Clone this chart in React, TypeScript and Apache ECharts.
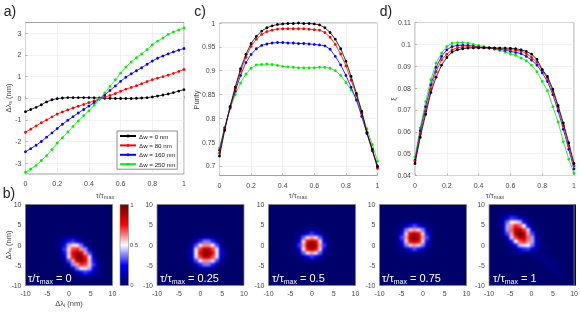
import React, { useEffect, useRef } from "react";
import * as echarts from "echarts";

const tauAxis = [0,0.033,0.067,0.1,0.133,0.167,0.2,0.233,0.267,0.3,0.333,0.367,0.4,0.433,0.467,0.5,0.533,0.567,0.6,0.633,0.667,0.7,0.733,0.767,0.8,0.833,0.867,0.9,0.933,0.967,1];
const seriesNames = ["Δw = 0 nm","Δw = 80 nm","Δw = 160 nm","Δw = 250 nm"];
const seriesColors = ["#000000","#ff0000","#0000ff","#00ee00"];

const shift0 = [-0.62,-0.52,-0.42,-0.3,-0.17,-0.07,-0.02,0.01,0.03,0.03,0.03,0.03,0.03,0.02,0.01,0,0,-0.01,-0.01,-0.01,-0.01,0,0.01,0.03,0.06,0.1,0.15,0.2,0.26,0.33,0.4];
const shift80 = [-1.57,-1.43,-1.28,-1.13,-1.0,-0.86,-0.73,-0.63,-0.54,-0.45,-0.37,-0.29,-0.2,-0.12,-0.03,0.05,0.13,0.22,0.32,0.42,0.5,0.58,0.67,0.77,0.86,0.93,1.0,1.07,1.15,1.24,1.33];
const shift160 = [-2.47,-2.33,-2.17,-2.0,-1.8,-1.6,-1.4,-1.2,-1.02,-0.85,-0.68,-0.52,-0.36,-0.2,-0.03,0.15,0.36,0.57,0.78,0.97,1.13,1.27,1.41,1.57,1.72,1.85,1.95,2.05,2.14,2.22,2.3];
const shift250 = [-3.42,-3.27,-3.1,-2.88,-2.65,-2.37,-2.07,-1.82,-1.56,-1.3,-1.05,-0.8,-0.58,-0.32,-0.04,0.25,0.55,0.86,1.16,1.44,1.68,1.87,2.05,2.25,2.47,2.64,2.78,2.95,3.06,3.16,3.25];

const purity0 = [0.721,0.775,0.825,0.866,0.904,0.934,0.957,0.972,0.983,0.99,0.994,0.997,0.998,0.999,0.999,1,0.999,0.999,0.998,0.996,0.99,0.98,0.966,0.946,0.92,0.888,0.852,0.815,0.77,0.735,0.698];
const purity80 = [0.727,0.778,0.823,0.862,0.899,0.928,0.951,0.966,0.976,0.982,0.985,0.987,0.988,0.988,0.988,0.988,0.988,0.987,0.986,0.985,0.98,0.97,0.955,0.935,0.91,0.88,0.848,0.812,0.77,0.733,0.695];
const purity160 = [0.733,0.78,0.822,0.857,0.89,0.917,0.934,0.946,0.953,0.956,0.958,0.959,0.959,0.958,0.958,0.957,0.957,0.956,0.955,0.954,0.952,0.945,0.93,0.912,0.89,0.865,0.838,0.804,0.768,0.732,0.7];
const purity250 = [0.738,0.781,0.82,0.85,0.874,0.893,0.905,0.912,0.913,0.914,0.913,0.911,0.909,0.908,0.907,0.906,0.906,0.906,0.906,0.907,0.907,0.905,0.9,0.89,0.875,0.86,0.84,0.81,0.778,0.745,0.71];

const xi0 = [0.0455,0.0575,0.068,0.078,0.085,0.0905,0.094,0.0965,0.0975,0.098,0.0983,0.0984,0.0984,0.0984,0.0984,0.0984,0.0983,0.0983,0.0982,0.098,0.0975,0.0968,0.0955,0.0932,0.0885,0.0853,0.0795,0.072,0.064,0.055,0.0455];
const xi80 = [0.0465,0.059,0.0695,0.0795,0.0875,0.093,0.0955,0.0975,0.0985,0.0988,0.0988,0.0987,0.0986,0.0985,0.0984,0.0982,0.098,0.0978,0.0976,0.0973,0.097,0.0958,0.094,0.0918,0.0882,0.0845,0.0785,0.0712,0.0628,0.0535,0.0445];
const xi160 = [0.047,0.0605,0.0715,0.0815,0.0895,0.0945,0.0975,0.099,0.0995,0.0996,0.0995,0.0992,0.0988,0.0985,0.0983,0.098,0.0977,0.0973,0.0968,0.0963,0.0958,0.0945,0.0928,0.0905,0.087,0.083,0.077,0.0695,0.0612,0.052,0.043];
const xi250 = [0.0485,0.0618,0.0738,0.0838,0.0915,0.096,0.099,0.1005,0.1008,0.1008,0.1005,0.1,0.0995,0.099,0.0985,0.0978,0.0972,0.0965,0.0957,0.095,0.0938,0.0925,0.0905,0.0875,0.083,0.0788,0.0715,0.0645,0.0555,0.0475,0.041];

const detuning = [-10,-9,-8,-7,-6,-5,-4,-3,-2,-1,0,1,2,3,4,5,6,7,8,9,10];

// Each row: [signal detuning, first idler detuning, ...joint spectral intensity]
const heatTau0 = [
  [2,-3,.02,.04,.05,.09,.09,.06,.03,.01],
  [1,-3,.03,.05,.12,.26,.30,.24,.10,.04,.01],
  [0,-3,.02,.07,.25,.43,.53,.49,.36,.13,.035,.01],
  [-1,-3,.02,.07,.30,.54,.69,.72,.6,.39,.12,.025,0],
  [-2,-3,.01,.05,.26,.56,.79,.92,.83,.6,.32,.07,.01,0],
  [-3,-3,0,.03,.15,.47,.74,.97,.97,.74,.47,.15,.03,0],
  [-4,-3,0,.01,.07,.32,.6,.83,.92,.79,.56,.26,.05,.01],
  [-5,-3,0,0,.025,.12,.39,.6,.72,.69,.54,.30,.07,.02],
  [-6,-3,0,0,0,.035,.13,.36,.49,.53,.43,.25,.07,.02],
  [-7,-3,0,0,0,.01,.04,.10,.24,.30,.26,.12,.05,.03],
  [-8,-3,0,0,0,0,.01,.03,.06,.09,.09,.05,.04,.02],
];
const heatTau25 = [
  [3,-4,0,0,0,.01,.01,.02,.02,.01,.01,0,0,0],
  [2,-4,0,0,.01,.03,.07,.09,.09,.07,.03,.01,0,0],
  [1,-4,0,.01,.035,.12,.28,.37,.37,.28,.12,.035,.01,0],
  [0,-4,0,.02,.09,.32,.52,.62,.62,.52,.32,.09,.02,0],
  [-1,-4,.01,.035,.16,.47,.7,.86,.86,.7,.47,.16,.035,.01],
  [-2,-4,.01,.04,.2,.52,.78,.97,.97,.78,.52,.2,.04,.01],
  [-3,-4,.01,.035,.16,.47,.7,.86,.86,.7,.47,.16,.035,.01],
  [-4,-4,0,.02,.09,.32,.52,.62,.62,.52,.32,.09,.02,0],
  [-5,-4,0,.01,.035,.12,.28,.37,.37,.28,.12,.035,.01,0],
  [-6,-4,0,0,.01,.03,.07,.09,.09,.07,.03,.01,0,0],
  [-7,-4,0,0,0,.01,.01,.02,.02,.01,.01,0,0,0],
];
const heatTau50 = [
  [5,-5,0,0,0,0,.01,.01,.01,0,0,0,0],
  [4,-5,0,0,.01,.02,.04,.05,.04,.02,.01,0,0],
  [3,-5,0,.01,.035,.1,.24,.3,.24,.1,.035,.01,0],
  [2,-5,0,.02,.1,.34,.53,.6,.53,.34,.1,.02,0],
  [1,-5,.01,.04,.2,.53,.77,.88,.77,.53,.2,.04,.01],
  [0,-5,.01,.05,.3,.6,.88,1,.88,.6,.3,.05,.01],
  [-1,-5,.01,.04,.2,.53,.77,.88,.77,.53,.2,.04,.01],
  [-2,-5,0,.02,.1,.34,.53,.6,.53,.34,.1,.02,0],
  [-3,-5,0,.01,.035,.1,.24,.3,.24,.1,.035,.01,0],
  [-4,-5,0,0,.01,.02,.04,.05,.04,.02,.01,0,0],
  [-5,-5,0,0,0,0,.01,.01,.01,0,0,0,0],
];
const heatTau75 = [
  [7,-7,0,0,0,.01,.01,.015,.01,.01,0,0,0],
  [6,-7,0,0,.01,.03,.05,.07,.05,.03,.01,0,0],
  [5,-7,0,.015,.04,.13,.26,.32,.26,.13,.04,.015,0],
  [4,-7,0,.03,.13,.37,.55,.6,.55,.37,.13,.03,0],
  [3,-7,.01,.05,.26,.55,.78,.88,.78,.55,.26,.05,.01],
  [2,-7,.015,.07,.32,.6,.88,1,.88,.6,.32,.07,.015],
  [1,-7,.01,.05,.26,.55,.78,.88,.78,.55,.26,.05,.01],
  [0,-7,0,.03,.13,.37,.55,.6,.55,.37,.13,.03,0],
  [-1,-7,0,.015,.04,.13,.26,.32,.26,.13,.04,.015,0],
  [-2,-7,0,0,.01,.03,.05,.07,.05,.03,.01,0,0],
  [-3,-7,0,0,0,.01,.01,.015,.01,.01,0,0,0],
];
const heatTau100 = [
  [8,-8,.02,.04,.07,.08,.06,.03,.01,0],
  [7,-8,.03,.08,.2,.3,.28,.18,.06,.02,.01],
  [6,-8,.035,.13,.36,.5,.53,.44,.26,.07,.02,.01],
  [5,-8,.03,.14,.42,.62,.73,.67,.5,.26,.06,.01,0],
  [4,-8,.02,.12,.41,.66,.88,.9,.71,.46,.15,.03,.01],
  [3,-8,.01,.07,.32,.6,.88,1,.88,.6,.32,.07,.01],
  [2,-8,.01,.03,.15,.46,.71,.9,.88,.66,.41,.12,.02],
  [1,-8,0,.01,.06,.26,.5,.67,.73,.62,.42,.14,.03],
  [0,-8,0,0,.02,.07,.26,.44,.53,.5,.36,.13,.035,.03],
  [-1,-8,0,0,.01,.02,.06,.18,.28,.3,.2,.08,.03,.03,.02],
  [-2,-6,.01,.03,.06,.08,.07,.05,.04,.035,.03],
  [-3,0,.03,.04,.04,.04,.03],
  [-4,2,.03,.04,.04,.03],
  [-5,3,.03,.04,.04,.03],
  [-6,4,.03,.04,.03],
  [-7,5,.03,.03,.03],
  [-8,6,.02,.03],
];

const heatLabels = ["0","0.25","0.5","0.75","1"];
const heatRows = [heatTau0,heatTau25,heatTau50,heatTau75,heatTau100];
const heatLefts = [25.5,157,268.5,379.5,489];
const heatLabelX = [28,160,272,382,493];
const heatMapColors = ["#00006a","#0000ff","#ffffff","#ff0000","#700000"];

const FONT = "Liberation Sans";
const TICK = "#4a4a4a";
const BOX = "#8a8a8a";
const HEAT_TOP = 204.5, HEAT_H = 81, HEAT_W = 87;

function toCells(rows: number[][]) {
  const grid = new Map<string, number>();
  rows.forEach((r) => {
    const [y, x0, ...vals] = r;
    vals.forEach((v, i) => grid.set(`${x0 + i},${y}`, v));
  });
  const out: number[][] = [];
  detuning.forEach((y, yi) => detuning.forEach((x, xi) => {
    out.push([xi, yi, grid.get(`${x},${y}`) ?? 0]);
  }));
  return out;
}

function label(text: string, x: number, y: number, size: number, extra: any = {}) {
  return { type: "text", x, y, z: 100, silent: true, ...extra,
    style: { text, fontFamily: FONT, fontSize: size, fill: TICK, align: "center", verticalAlign: "middle", ...(extra.style || {}) } };
}
const mathRich = {
  m: { fontFamily: FONT, fontSize: 7.5, fill: TICK },
  s: { fontFamily: FONT, fontSize: 5.5, fill: TICK, padding: [3, 0, 0, 0] },
};
function richLabel(text: string, x: number, y: number, rotation = 0) {
  return { type: "text", x, y, rotation, z: 100, silent: true,
    style: { text, align: "center", verticalAlign: "middle", rich: mathRich } };
}

export default function App() {
  const ref = useRef<HTMLDivElement>(null);
  const heatRef = useRef<HTMLDivElement>(null);
  useEffect(() => {
    document.body.style.margin = "0";
    const heat = echarts.init(heatRef.current!, undefined, { renderer: "svg" });
    const heatGrids: any[] = [], hx: any[] = [], hy: any[] = [], hs: any[] = [];
    heatLefts.forEach((left, p) => {
      heatGrids.push({ left, top: HEAT_TOP, width: HEAT_W, height: HEAT_H });
      hx.push({ type: "category", gridIndex: p, data: detuning.map(String), boundaryGap: true, show: false });
      hy.push({ type: "category", gridIndex: p, data: detuning.map(String), boundaryGap: true, show: false });
      hs.push({ type: "heatmap", xAxisIndex: p, yAxisIndex: p, data: toCells(heatRows[p]), progressive: 0 });
    });
    heat.setOption({
      animation: false,
      grid: heatGrids, xAxis: hx, yAxis: hy, series: hs,
      visualMap: { type: "continuous", min: 0, max: 1, show: false, inRange: { color: heatMapColors } },
    });

    const chart = echarts.init(ref.current!, undefined, { renderer: "svg" });
    const lineGrids = [
      { left: 25.5, top: 22.5, width: 158.5, height: 151.5 },
      { left: 219.5, top: 23, width: 158, height: 152.5 },
      { left: 415, top: 22.5, width: 159, height: 153 },
    ];
    const grids: any[] = lineGrids.map((g) => ({ ...g, show: true, borderColor: BOX, borderWidth: 0.8, backgroundColor: "transparent" }));
    const xAxes: any[] = [], yAxes: any[] = [], series: any[] = [];
    const lineY = [
      { min: -3.5, max: 3.5, values: [-3,-2,-1,0,1,2,3] },
      { min: 0.68, max: 1, values: [0.7,0.75,0.8,0.85,0.9,0.95,1] },
      { min: 0.04, max: 0.11, values: [0.04,0.05,0.06,0.07,0.08,0.09,0.1,0.11] },
    ];
    const lineData = [
      [shift0, shift80, shift160, shift250],
      [purity0, purity80, purity160, purity250],
      [xi0, xi80, xi160, xi250],
    ];
    const tickLabel = { fontFamily: FONT, fontSize: 7, color: TICK, margin: 4 };
    lineGrids.forEach((_, i) => {
      xAxes.push({ type: "value", gridIndex: i, min: 0, max: 1, interval: 0.2,
        axisLine: { show: false }, axisTick: { inside: true, length: 2, lineStyle: { color: BOX, width: 0.6 } },
        splitLine: { show: true, lineStyle: { color: "#ebebeb", width: 0.7 } }, axisLabel: { ...tickLabel, margin: 6 } });
      yAxes.push({ type: "value", gridIndex: i, min: lineY[i].min, max: lineY[i].max,
        axisLine: { show: false }, axisTick: { inside: true, length: 2, customValues: lineY[i].values, lineStyle: { color: BOX, width: 0.6 } },
        splitLine: { show: true, lineStyle: { color: "#ebebeb", width: 0.7 } },
        axisLabel: { ...tickLabel, customValues: lineY[i].values, showMinLabel: true, showMaxLabel: true } });
      lineData[i].forEach((vals, s) => {
        series.push({ type: "line", name: seriesNames[s], xAxisIndex: i, yAxisIndex: i, symbol: "circle", symbolSize: 2.8,
          z: 3 + (i === 0 ? s : 3 - s),
          lineStyle: { color: seriesColors[s], width: 0.8 }, itemStyle: { color: seriesColors[s] },
          data: vals.map((v, k) => [tauAxis[k], v]) });
      });
    });
    heatLefts.forEach((left) => {
      const gi = grids.length;
      grids.push({ left, top: HEAT_TOP, width: HEAT_W, height: HEAT_H, show: true, borderColor: BOX, borderWidth: 0.8, backgroundColor: "transparent", z: 5 });
      const common = { type: "value", gridIndex: gi, min: -10, max: 10, interval: 5, splitLine: { show: false },
        axisLine: { show: false }, axisTick: { show: false }, axisLabel: { ...tickLabel, margin: 4 } };
      xAxes.push({ ...common });
      yAxes.push({ ...common });
    });
    const barStops = heatMapColors.map((color, i) => ({ offset: i / (heatMapColors.length - 1), color }));
    const graphics: any[] = [
      label("a)", 10, 11, 14, { style: { fill: "#222" } }),
      label("c)", 200, 11, 14, { style: { fill: "#222" } }),
      label("d)", 386, 11, 14, { style: { fill: "#222" } }),
      label("b)", 9, 193, 14, { style: { fill: "#222" } }),
      richLabel("{m|Δλ}{s|s}{m| (nm)}", 8, 98, Math.PI / 2),
      richLabel("{m|Δλ}{s|s}{m| (nm)}", 8, 245, Math.PI / 2),
      richLabel("{m|Δλ}{s|i}{m| (nm)}", 69, 303),
      richLabel("{m|τ/τ}{s|max}", 105, 195),
      richLabel("{m|τ/τ}{s|max}", 298, 195),
      richLabel("{m|τ/τ}{s|max}", 495, 195),
      label("Purity", 196, 100, 7.5, { rotation: Math.PI / 2 }),
      label("ξ", 393, 99, 7.5, { rotation: Math.PI / 2 }),
      label("1", 132, 205, 6),
      label("0.5", 134, 245, 6),
      label("0", 132, 285, 6),
      { type: "rect", z: 99, silent: true, shape: { x: 120, y: 204.5, width: 8.5, height: 81 },
        style: { fill: new echarts.graphic.LinearGradient(0, 1, 0, 0, barStops), stroke: BOX, lineWidth: 0.6 } },
    ];
    heatLabels.forEach((t, i) => {
      graphics.push({ type: "text", x: heatLabelX[i], y: 278, z: 100, silent: true,
        style: { text: `{m|τ/τ}{s|max}{m| = ${t}}`, align: "left", verticalAlign: "middle",
          rich: { m: { fontFamily: FONT, fontSize: 11, fill: "#fff" }, s: { fontFamily: FONT, fontSize: 7, fill: "#fff", padding: [6, 0, 0, 0] } } } });
    });
    chart.setOption({
      animation: false,
      grid: grids,
      xAxis: xAxes,
      yAxis: yAxes,
      series,
      legend: { data: seriesNames, orient: "vertical", left: 117, top: 131, padding: [2, 2, 2, 2],
        itemWidth: 16, itemHeight: 3.5, itemGap: 3.4, backgroundColor: "#fff", borderColor: "#444", borderWidth: 0.6, z: 20,
        textStyle: { fontFamily: FONT, fontSize: 6.2, color: "#222", padding: [0, 0, 0, -2] } },
      graphic: graphics,
    });
    return () => { chart.dispose(); heat.dispose(); };
  }, []);
  const clip = heatLefts.map((l) => `M${l} ${HEAT_TOP}h${HEAT_W}v${HEAT_H}h-${HEAT_W}z`).join(" ");
  return (
    <div style={{ position: "relative", width: 581, height: 312, background: "#fff", overflow: "hidden" }}>
      <div style={{ position: "absolute", left: 0, top: 0, width: 581, height: 312, background: heatMapColors[0], clipPath: `path("${clip}")` }}>
        <div ref={heatRef} style={{ width: 581, height: 312, filter: "blur(1.2px)" }} />
      </div>
      <div ref={ref} style={{ position: "absolute", left: 0, top: 0, width: 581, height: 312, filter: "blur(0.3px)" }} />
    </div>
  );
}
